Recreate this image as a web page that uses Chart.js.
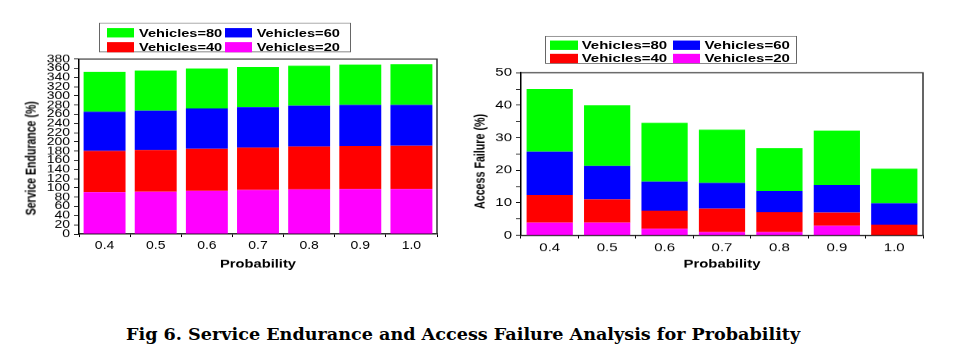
<!DOCTYPE html>
<html><head><meta charset="utf-8">
<script src="https://cdn.jsdelivr.net/npm/chart.js@4/dist/chart.umd.min.js"></script>
<style>
html,body{margin:0;padding:0;background:#fff;}
#page{position:relative;width:956px;height:358px;overflow:hidden;background:#fff;font-family:"Liberation Sans",Arial,sans-serif;}
.wrap{position:absolute;top:0;transform-origin:0 0;}
.wrap canvas{position:absolute;left:0;top:0;}
.legend{position:absolute;border:1px solid #666;background:#fff;box-sizing:border-box;}
.item{position:absolute;display:flex;align-items:center;}
.sw{display:inline-block;flex:none;}
.lt{font-weight:bold;color:#000;white-space:nowrap;line-height:18px;}
.ytitle{position:absolute;font-weight:bold;white-space:nowrap;color:#000;line-height:1;}
#caption{position:absolute;font-family:"DejaVu Serif",serif;font-weight:bold;color:#000;white-space:nowrap;transform-origin:0 0;}
</style></head><body>
<div id="page">
 <div class="wrap" id="wrapL" style="left:0;width:470px;height:360px"><canvas id="cL"></canvas></div>
 <div class="wrap" id="wrapR" style="left:470px;width:486px;height:360px"><canvas id="cR"></canvas></div>
 <div id="caption">Fig 6. Service Endurance and Access Failure Analysis for Probability</div>
</div>
<script>
// ---------- DATA ----------
const probabilities = ['0.4','0.5','0.6','0.7','0.8','0.9','1.0'];
const seriesLabels = ['Vehicles=20','Vehicles=40','Vehicles=60','Vehicles=80'];
// Service Endurance (%) - stacked segment values
const endurance20 = [91, 92, 93.5, 95.5, 97, 98, 98];
const endurance40 = [89.5, 90.5, 91.5, 92, 93, 93.5, 94];
const endurance60 = [85, 85.5, 87.5, 88, 88.5, 89, 88.5];
const endurance80 = [87, 87, 87, 87, 87, 87.5, 88.5];
// Access Failure (%) - stacked segment values
const failure20 = [3.9, 3.9, 2.0, 1.0, 1.0, 2.9, 0];
const failure40 = [8.5, 7.2, 5.6, 7.2, 6.1, 4.1, 3.3];
const failure60 = [13.3, 10.2, 8.9, 7.9, 6.5, 8.5, 6.6];
const failure80 = [19.3, 18.7, 18.1, 16.4, 13.2, 16.7, 10.6];
// Axis ticks
const enduranceAxis = {min: 0, max: 380, step: 20, labelEvery: 20};
const failureAxis = {min: 0, max: 50, step: 5, labelEvery: 10};
const xTitle = 'Probability';
const enduranceTitle = 'Service Endurance (%)';
const failureTitle = 'Access Failure (%)';
const seriesColors = ['#ff00ff', '#ff0000', '#0000ff', '#00ff00'];
const legendOrder = [3, 2, 1, 0];

// ---------- RENDER ----------
const S = 0.78;               // vertical squash of the original figure
const FONT = '"Liberation Sans", Arial, sans-serif';

const framePlugin = {
  id: 'frame',
  afterDraw(chart) {
    const {ctx, chartArea: a} = chart;
    ctx.save();
    ctx.strokeStyle = '#333';
    ctx.lineWidth = 1.5;
    ctx.beginPath();
    ctx.moveTo(a.left, a.top);
    ctx.lineTo(a.right, a.top);
    ctx.lineTo(a.right, a.bottom);
    ctx.stroke();
    ctx.restore();
  }
};

function makeChart(p) {
  const wrap = document.getElementById(p.wrap);
  wrap.style.transform = `scaleY(${S})`;
  const W = p.W, H = p.H;
  const canvas = document.getElementById(p.canvas);
  canvas.width = W; canvas.height = H;
  canvas.style.width = W + 'px'; canvas.style.height = H + 'px';
  const topU = p.area.top / S, bottomU = p.area.bottom / S;
  const titleLH = p.xTitleSize * 1.2;
  const titleCenterU = p.xTitleY / S;
  const datasets = p.series.map((d, i) => ({
    label: seriesLabels[i], data: d, backgroundColor: seriesColors[i], borderWidth: 0,
    barPercentage: p.barPct, categoryPercentage: 1
  }));
  new Chart(canvas, {
    type: 'bar',
    data: {labels: probabilities, datasets},
    plugins: [framePlugin],
    options: {
      responsive: false, animation: false, devicePixelRatio: 1,
      layout: {padding: {left: 0, top: topU, right: W - p.area.right, bottom: 0}},
      plugins: {legend: {display: false}, tooltip: {enabled: false}},
      scales: {
        x: {
          stacked: true, offset: true,
          grid: {display: true, drawOnChartArea: false, drawTicks: true, tickLength: 4, color: '#000', offset: true},
          border: {display: true, color: '#000', width: 1.5},
          ticks: {color: '#000', font: {family: FONT, size: p.tickSize}, padding: 3, maxRotation: 0, autoSkip: false},
          title: {display: true, text: xTitle, color: '#000', font: {family: FONT, size: p.xTitleSize, weight: 'bold'},
                  padding: {top: 0, bottom: H - titleLH / 2 - titleCenterU}},
          afterFit: (s) => { s.height = H - bottomU; }
        },
        y: {
          stacked: true, min: p.axis.min, max: p.axis.max,
          grid: {display: true, drawOnChartArea: false, drawTicks: true, tickLength: 5, color: '#000'},
          border: {display: true, color: '#000', width: 1.5},
          ticks: {stepSize: p.axis.step, autoSkip: false, color: '#000', padding: 4,
                  font: {family: FONT, size: p.tickSize},
                  callback: (v) => (Math.abs(v % p.axis.labelEvery) < 1e-9 ? String(v) : '')},
          afterFit: (s) => { s.width = p.area.left; }
        }
      }
    }
  });
  // legend (HTML)
  const L = p.legend;
  const box = document.createElement('div');
  box.className = 'legend';
  box.style.left = L.left + 'px';
  box.style.top = (L.top / S) + 'px';
  box.style.width = L.width + 'px';
  box.style.height = (L.height / S) + 'px';
  legendOrder.forEach((si, k) => {
    const col = k % 2, row = Math.floor(k / 2);
    const it = document.createElement('div');
    it.className = 'item';
    it.style.left = L.colX[col] + 'px';
    it.style.top = (L.rowY[row] / S - 9) + 'px';
    it.style.height = '18px';
    const sw = document.createElement('span');
    sw.className = 'sw';
    sw.style.width = L.swW + 'px';
    sw.style.height = (L.swH / S) + 'px';
    sw.style.background = seriesColors[si];
    const t = document.createElement('span');
    t.className = 'lt';
    t.style.fontSize = L.fontSize + 'px';
    t.style.marginLeft = L.gap + 'px';
    t.textContent = seriesLabels[si];
    it.appendChild(sw); it.appendChild(t);
    box.appendChild(it);
  });
  wrap.appendChild(box);
  // y title (rotated, compressed along its length to the measured span)
  const yt = document.createElement('div');
  yt.className = 'ytitle';
  yt.textContent = p.yTitle;
  yt.style.fontSize = p.yTitleSize + 'px';
  yt.style.left = p.yTitlePos[0] + 'px';
  yt.style.top = (p.yTitlePos[1] / S) + 'px';
  wrap.appendChild(yt);
  const natural = yt.getBoundingClientRect().width;
  const k = (p.yTitleLen / S) / natural;
  yt.style.transform = `translate(-50%,-50%) rotate(-90deg) scaleX(${k})`;
}

makeChart({
  wrap: 'wrapL', canvas: 'cL', W: 470, H: 360,
  area: {left: 79, right: 437, top: 59, bottom: 234},
  series: [endurance20, endurance40, endurance60, endurance80],
  axis: enduranceAxis, barPct: 0.82, tickSize: 14, xTitleSize: 14.7, xTitleY: 264,
  yTitle: enduranceTitle, yTitleSize: 14.7, yTitleLen: 114, yTitlePos: [31, 158],
  legend: {left: 99, top: 23, width: 252, height: 29, colX: [7, 124.7], rowY: [9, 23.3], swW: 27, swH: 10, gap: 5, fontSize: 14.6}
});
makeChart({
  wrap: 'wrapR', canvas: 'cR', W: 486, H: 360,
  area: {left: 51, right: 453, top: 72.7, bottom: 235.3},
  series: [failure20, failure40, failure60, failure80],
  axis: failureAxis, barPct: 0.805, tickSize: 15, xTitleSize: 14.9, xTitleY: 264,
  yTitle: failureTitle, yTitleSize: 14.9, yTitleLen: 95, yTitlePos: [10, 161.5],
  legend: {left: 75, top: 36, width: 252, height: 28, colX: [4, 126.7], rowY: [8.7, 21.7], swW: 27.7, swH: 9.5, gap: 4, fontSize: 15}
});

// caption
(function () {
  const cap = document.getElementById('caption');
  const c = document.createElement('canvas').getContext('2d');
  c.font = 'bold 100px "DejaVu Serif"';
  const w100 = c.measureText(cap.textContent).width;
  const fs = 100 * 674.7 / w100;
  const sy = 12.6 / (0.729 * fs);
  cap.style.fontSize = fs + 'px';
  cap.style.lineHeight = fs + 'px';
  cap.style.left = '126px';
  cap.style.top = (339.3 - 0.846 * fs * sy) + 'px';
  cap.style.transform = `scaleY(${sy})`;
})();
</script>
</body></html>
